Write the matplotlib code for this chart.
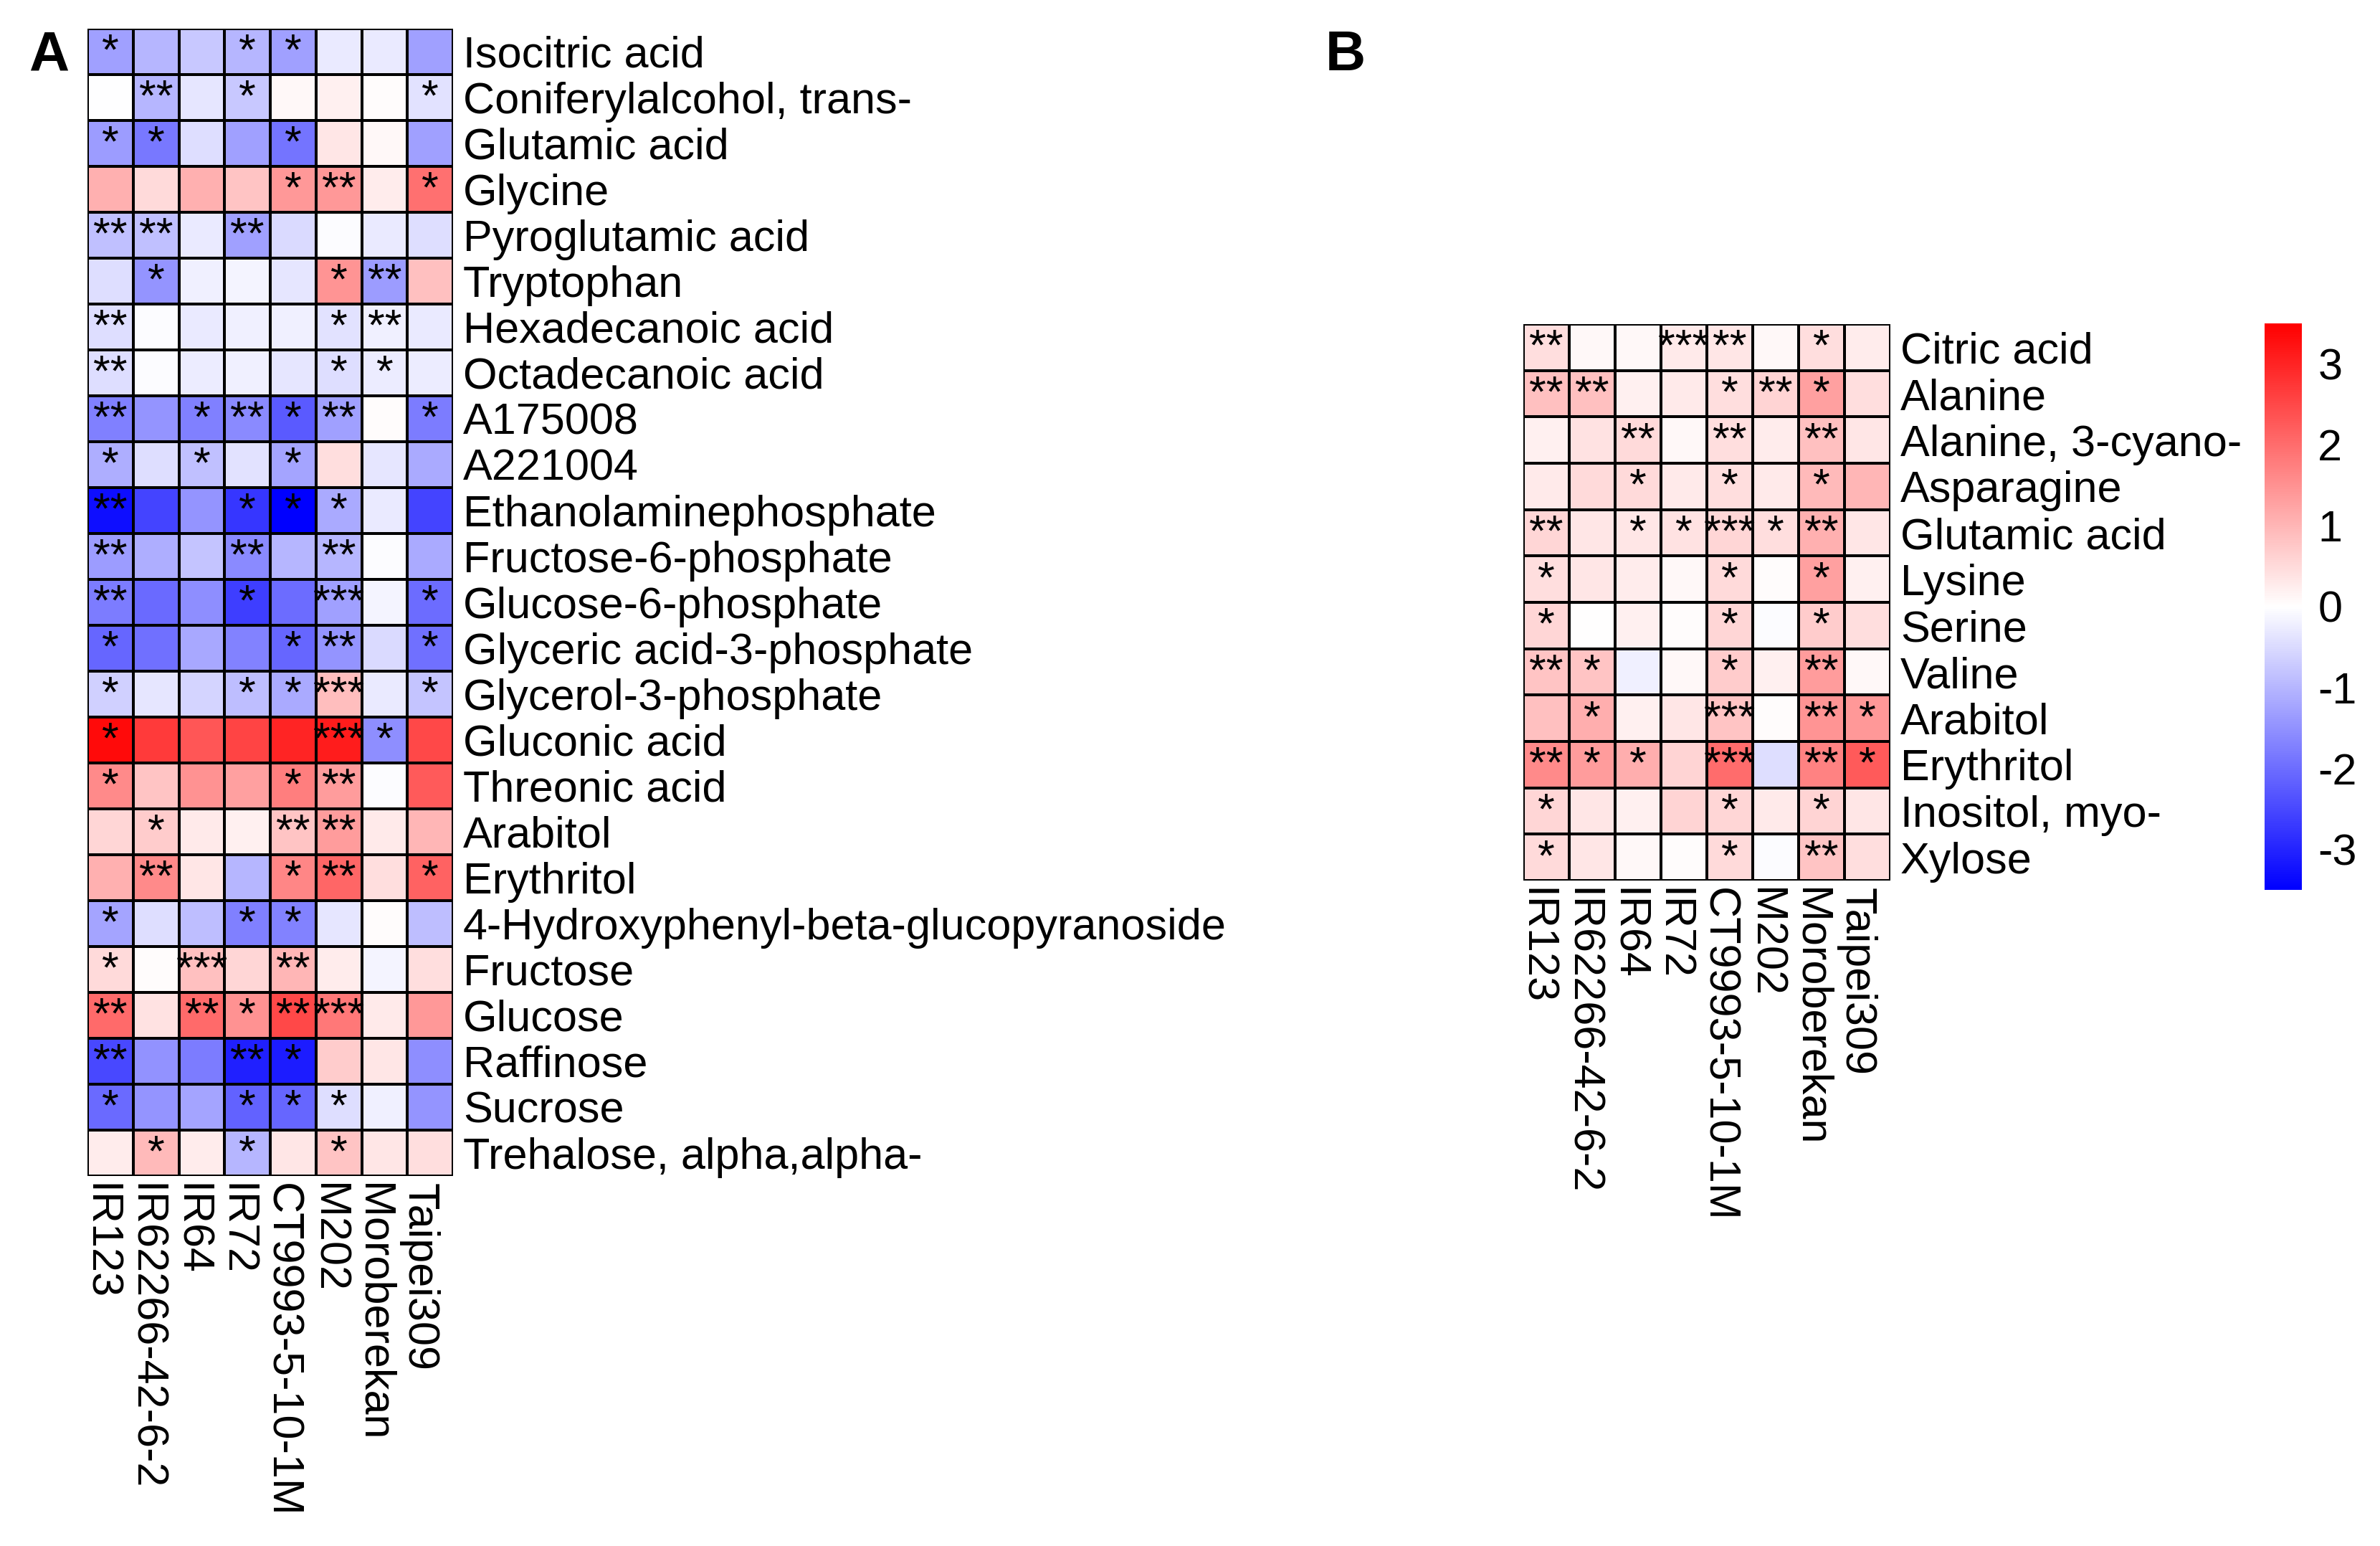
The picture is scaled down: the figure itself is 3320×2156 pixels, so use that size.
import numpy as np
import matplotlib
matplotlib.use('Agg')
import matplotlib.pyplot as plt
import matplotlib.transforms as mtransforms

plt.rcParams['font.family'] = ['Liberation Sans', 'DejaVu Sans']
plt.rcParams['axes.unicode_minus'] = False

cultivars = ['IR123', 'IR62266-42-6-2', 'IR64', 'IR72', 'CT9993-5-10-1M', 'M202', 'Moroberekan', 'Taipei309']

rows_a = ['Isocitric acid', 'Coniferylalcohol, trans-', 'Glutamic acid', 'Glycine', 'Pyroglutamic acid',
          'Tryptophan', 'Hexadecanoic acid', 'Octadecanoic acid', 'A175008', 'A221004',
          'Ethanolaminephosphate', 'Fructose-6-phosphate', 'Glucose-6-phosphate', 'Glyceric acid-3-phosphate',
          'Glycerol-3-phosphate', 'Gluconic acid', 'Threonic acid', 'Arabitol', 'Erythritol',
          '4-Hydroxyphenyl-beta-glucopyranoside', 'Fructose', 'Glucose', 'Raffinose', 'Sucrose',
          'Trehalose, alpha,alpha-']

vals_a = [
    [-1.3, -1.0, -0.75, -1.0, -1.3, -0.3, -0.3, -1.3],
    [-0.02, -1.0, -0.35, -0.75, 0.1, 0.2, 0.03, -0.4],
    [-1.35, -1.85, -0.45, -1.3, -1.9, 0.35, 0.1, -1.3],
    [1.08, 0.5, 1.08, 0.8, 1.4, 1.4, 0.25, 1.95],
    [-0.85, -0.85, -0.3, -1.3, -0.5, -0.05, -0.3, -0.45],
    [-0.45, -1.45, -0.2, -0.15, -0.35, 1.45, -1.35, 0.85],
    [-0.45, -0.05, -0.3, -0.2, -0.2, -0.4, -0.2, -0.3],
    [-0.45, -0.05, -0.27, -0.2, -0.35, -0.45, -0.27, -0.27],
    [-1.75, -1.45, -1.75, -1.6, -2.25, -1.3, 0.03, -1.8],
    [-1.1, -0.45, -0.85, -0.4, -1.25, 0.45, -0.35, -1.15],
    [-3.3, -2.55, -1.45, -2.75, -3.5, -1.15, -0.3, -2.55],
    [-1.35, -1.1, -0.8, -1.6, -1.0, -1.0, -0.05, -1.15],
    [-1.8, -2.05, -1.55, -2.65, -2.0, -1.3, -0.15, -2.0],
    [-2.1, -1.95, -1.2, -1.7, -2.1, -1.45, -0.5, -1.95],
    [-0.65, -0.35, -0.6, -0.9, -1.15, 0.9, -0.3, -0.8],
    [3.35, 2.7, 2.3, 2.55, 3.0, 3.1, -1.55, 2.5],
    [1.6, 0.8, 1.5, 1.3, 1.75, 1.35, -0.05, 2.25],
    [0.55, 0.7, 0.3, 0.2, 0.8, 1.35, 0.3, 1.0],
    [1.08, 1.6, 0.35, -1.0, 1.65, 2.1, 0.45, 2.15],
    [-1.25, -0.45, -0.9, -1.75, -1.7, -0.35, 0.03, -0.9],
    [0.5, 0.05, 0.85, 0.55, 1.0, 0.25, -0.15, 0.45],
    [2.05, 0.4, 2.05, 1.5, 2.5, 1.85, 0.3, 1.4],
    [-2.5, -1.5, -1.8, -3.05, -3.1, 0.7, 0.35, -1.55],
    [-2.05, -1.45, -1.25, -2.15, -2.1, -0.45, -0.2, -1.45],
    [0.27, 0.95, 0.25, -1.0, 0.35, 0.8, 0.35, 0.45],
]

stars_a = [
    ['*', '', '', '*', '*', '', '', ''],
    ['', '**', '', '*', '', '', '', '*'],
    ['*', '*', '', '', '*', '', '', ''],
    ['', '', '', '', '*', '**', '', '*'],
    ['**', '**', '', '**', '', '', '', ''],
    ['', '*', '', '', '', '*', '**', ''],
    ['**', '', '', '', '', '*', '**', ''],
    ['**', '', '', '', '', '*', '*', ''],
    ['**', '', '*', '**', '*', '**', '', '*'],
    ['*', '', '*', '', '*', '', '', ''],
    ['**', '', '', '*', '*', '*', '', ''],
    ['**', '', '', '**', '', '**', '', ''],
    ['**', '', '', '*', '', '***', '', '*'],
    ['*', '', '', '', '*', '**', '', '*'],
    ['*', '', '', '*', '*', '***', '', '*'],
    ['*', '', '', '', '', '***', '*', ''],
    ['*', '', '', '', '*', '**', '', ''],
    ['', '*', '', '', '**', '**', '', ''],
    ['', '**', '', '', '*', '**', '', '*'],
    ['*', '', '', '*', '*', '', '', ''],
    ['*', '', '***', '', '**', '', '', ''],
    ['**', '', '**', '*', '**', '***', '', ''],
    ['**', '', '', '**', '*', '', '', ''],
    ['*', '', '', '*', '*', '*', '', ''],
    ['', '*', '', '*', '', '*', '', ''],
]

rows_b = ['Citric acid', 'Alanine', 'Alanine, 3-cyano-', 'Asparagine', 'Glutamic acid', 'Lysine',
          'Serine', 'Valine', 'Arabitol', 'Erythritol', 'Inositol, myo-', 'Xylose']

vals_b = [
    [0.45, 0.1, 0.1, 0.3, 0.35, 0.1, 0.45, 0.25],
    [0.85, 0.85, 0.2, 0.3, 0.45, 0.6, 1.3, 0.45],
    [0.2, 0.4, 0.5, 0.1, 0.45, 0.25, 0.85, 0.35],
    [0.3, 0.5, 0.5, 0.3, 0.45, 0.3, 0.95, 1.0],
    [0.55, 0.35, 0.35, 0.4, 0.55, 0.45, 1.08, 0.35],
    [0.45, 0.35, 0.25, 0.1, 0.5, 0.03, 1.3, 0.2],
    [0.55, 0.02, 0.2, 0.05, 0.55, -0.05, 0.7, 0.45],
    [0.8, 0.8, -0.2, 0.1, 0.7, 0.2, 1.35, 0.1],
    [0.85, 1.1, 0.2, 0.35, 0.8, 0.03, 1.45, 1.4],
    [1.6, 1.35, 1.1, 0.6, 2.0, -0.45, 1.7, 2.25],
    [0.55, 0.35, 0.2, 0.6, 0.55, 0.3, 0.6, 0.35],
    [0.5, 0.35, 0.1, 0.03, 0.5, -0.03, 0.8, 0.45],
]

stars_b = [
    ['**', '', '', '***', '**', '', '*', ''],
    ['**', '**', '', '', '*', '**', '*', ''],
    ['', '', '**', '', '**', '', '**', ''],
    ['', '', '*', '', '*', '', '*', ''],
    ['**', '', '*', '*', '***', '*', '**', ''],
    ['*', '', '', '', '*', '', '*', ''],
    ['*', '', '', '', '*', '', '*', ''],
    ['**', '*', '', '', '*', '', '**', ''],
    ['', '*', '', '', '***', '', '**', '*'],
    ['**', '*', '*', '', '***', '', '**', '*'],
    ['*', '', '', '', '*', '', '*', ''],
    ['*', '', '', '', '*', '', '**', ''],
]

vmin, vmax = -3.5, 3.5
W, H = 3320, 2156
DPI = 200
fs = 22


def draw_panel(fig, rect, vals, stars, rows):
    ax = fig.add_axes(rect)
    data = np.array(vals)
    nr, nc = data.shape
    mesh = ax.pcolormesh(data, cmap='bwr', vmin=vmin, vmax=vmax,
                         edgecolors='black', linewidth=1.4)
    ax.set_xlim(0, nc)
    ax.set_ylim(nr, 0)
    for s in ax.spines.values():
        s.set_visible(False)

    # stars sit in the upper part of the cell, as in the original
    star_off = mtransforms.ScaledTranslation(0, -2 / DPI, fig.dpi_scale_trans)
    for i in range(nr):
        for j in range(nc):
            if stars[i][j]:
                ax.text(j + 0.5, i + 0.5, stars[i][j], ha='center', va='center',
                        fontsize=fs, color='black', transform=ax.transData + star_off)

    ax.set_xticks([])
    ax.yaxis.tick_right()
    ax.set_yticks(np.arange(nr) + 0.5)
    ax.set_yticklabels(rows, fontsize=fs)
    ax.tick_params(axis='y', length=0, pad=5)

    lab_off = mtransforms.ScaledTranslation(-16 / DPI, -10 / DPI, fig.dpi_scale_trans)
    trans = mtransforms.blended_transform_factory(ax.transData, ax.transAxes) + lab_off
    for j, name in enumerate(cultivars):
        ax.text(j + 0.5, 0, name, rotation=270, ha='center', va='top',
                fontsize=fs, transform=trans)
    return mesh


fig = plt.figure(figsize=(W / DPI, H / DPI), dpi=DPI)

draw_panel(fig, [122 / W, 1 - 1640 / H, 510 / W, 1600 / H], vals_a, stars_a, rows_a)
mesh = draw_panel(fig, [2125 / W, 1 - 1228 / H, 512 / W, 776 / H], vals_b, stars_b, rows_b)

cax = fig.add_axes([3159 / W, 1 - 1241 / H, 52 / W, 790 / H])
cb = fig.colorbar(mesh, cax=cax, ticks=[-3, -2, -1, 0, 1, 2, 3])
cb.outline.set_visible(False)
cax.tick_params(length=0, pad=8, labelsize=fs)

fig.text(68 / W, 1 - 78 / H, 'A', fontsize=28, fontweight='bold', ha='center', va='center')
fig.text(1877 / W, 1 - 78 / H, 'B', fontsize=28, fontweight='bold', ha='center', va='center')

fig.savefig('out.png', dpi=DPI)
